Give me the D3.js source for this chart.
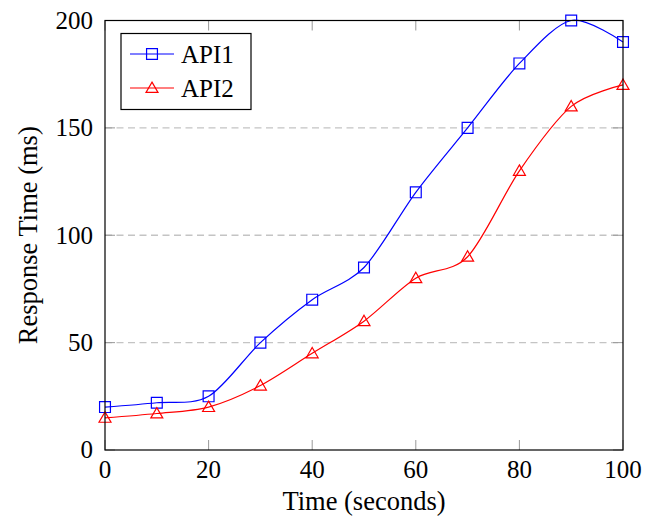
<!DOCTYPE html>
<html lang="en">
<head>
<meta charset="UTF-8">
<title>Response Time</title>
<script src="https://d3js.org/d3.v7.min.js"></script>
<style>
    body { margin: 0; background: #fff; }
    text { font-family: "Liberation Serif", "DejaVu Serif", serif; fill: #000; }
</style>
</head>
<body>
<div id="chart"></div>
<script>
    // data
    const times = [0, 10, 20, 30, 40, 50, 60, 70, 80, 90, 100];
    const api1 = [20, 22, 25, 50, 70, 85, 120, 150, 180, 200, 190];
    const api2 = [15, 17, 20, 30, 45, 60, 80, 90, 130, 160, 170];
    const xTicks = [0, 20, 40, 60, 80, 100];
    const yTicks = [0, 50, 100, 150, 200];
    const gridValues = [50, 100, 150];

    const width = 652, height = 518;
    const box = { left: 105, right: 623, top: 20.5, bottom: 450 };
    const fontSize = 25;
    const labelSize = 26.5;

    const svg = d3.select("#chart").append("svg")
        .attr("width", width)
        .attr("height", height);

    const x = d3.scaleLinear().domain([0, 100]).range([box.left, box.right]);
    const y = d3.scaleLinear().domain([0, 200]).range([box.bottom, box.top]);

    // dashed grid
    svg.append("g")
        .selectAll("line")
        .data(gridValues)
        .enter()
        .append("line")
        .attr("x1", box.left).attr("x2", box.right)
        .attr("y1", d => y(d)).attr("y2", d => y(d))
        .attr("stroke", "#c4c4c4")
        .attr("stroke-width", 1.3)
        .attr("stroke-dasharray", "7,4.5");

    // inner tick marks on all four sides
    const tickLen = 10;
    const ticks = svg.append("g").attr("stroke", "#999").attr("stroke-width", 1);
    xTicks.forEach(t => {
        ticks.append("line").attr("x1", x(t)).attr("x2", x(t))
            .attr("y1", box.bottom).attr("y2", box.bottom - tickLen);
        ticks.append("line").attr("x1", x(t)).attr("x2", x(t))
            .attr("y1", box.top).attr("y2", box.top + tickLen);
    });
    yTicks.forEach(t => {
        ticks.append("line").attr("x1", box.left).attr("x2", box.left + tickLen)
            .attr("y1", y(t)).attr("y2", y(t));
        ticks.append("line").attr("x1", box.right).attr("x2", box.right - tickLen)
            .attr("y1", y(t)).attr("y2", y(t));
    });

    // tick labels
    svg.append("g")
        .selectAll("text")
        .data(xTicks)
        .enter()
        .append("text")
        .attr("x", d => x(d))
        .attr("y", box.bottom + 28)
        .attr("text-anchor", "middle")
        .attr("font-size", fontSize)
        .text(d => d);

    svg.append("g")
        .selectAll("text")
        .data(yTicks)
        .enter()
        .append("text")
        .attr("x", box.left - 12)
        .attr("y", d => y(d))
        .attr("dy", "0.33em")
        .attr("text-anchor", "end")
        .attr("font-size", fontSize)
        .text(d => d);

    // axis labels
    svg.append("text")
        .attr("x", (box.left + box.right) / 2)
        .attr("y", 510)
        .attr("text-anchor", "middle")
        .attr("font-size", labelSize)
        .text("Time (seconds)");

    svg.append("text")
        .attr("transform", `translate(37, ${(box.top + box.bottom) / 2}) rotate(-90)`)
        .attr("text-anchor", "middle")
        .attr("font-size", labelSize)
        .text("Response Time (ms)");

    // series
    const series = [
        { name: "API1", values: api1, color: "#0000ff", marker: "square" },
        { name: "API2", values: api2, color: "#ff0000", marker: "triangle" }
    ];

    const line = d3.line()
        .x(d => x(d[0]))
        .y(d => y(d[1]))
        .curve(d3.curveCardinal.tension(0.1));

    const markerPath = (type) => type === "square"
        ? d3.symbol().type(d3.symbolSquare).size(118)()
        : d3.symbol().type(d3.symbolTriangle).size(62)();

    series.forEach(s => {
        const pts = times.map((t, i) => [t, s.values[i]]);
        const g = svg.append("g");
        g.append("path")
            .attr("d", line(pts))
            .attr("fill", "none")
            .attr("stroke", s.color)
            .attr("stroke-width", 1.2);
        g.selectAll("path.m")
            .data(pts)
            .enter()
            .append("path")
            .attr("class", "m")
            .attr("d", markerPath(s.marker))
            .attr("transform", d => `translate(${x(d[0])},${y(d[1]) + (s.marker === "triangle" ? 1 : 0)})`)
            .attr("fill", "none")
            .attr("stroke", s.color)
            .attr("stroke-width", 1.2);
    });

    // frame
    svg.append("rect")
        .attr("x", box.left).attr("y", box.top)
        .attr("width", box.right - box.left)
        .attr("height", box.bottom - box.top)
        .attr("fill", "none")
        .attr("stroke", "#000")
        .attr("stroke-width", 1.2);

    // legend
    const legend = svg.append("g");
    legend.append("rect")
        .attr("x", 121).attr("y", 33.5)
        .attr("width", 130).attr("height", 76)
        .attr("fill", "#fff")
        .attr("stroke", "#000")
        .attr("stroke-width", 1.2);
    series.forEach((s, i) => {
        const ly = 54 + i * 34;
        legend.append("line")
            .attr("x1", 130).attr("x2", 174)
            .attr("y1", ly).attr("y2", ly)
            .attr("stroke", s.color)
            .attr("stroke-width", 1.2);
        legend.append("path")
            .attr("d", markerPath(s.marker))
            .attr("transform", `translate(152,${ly + (s.marker === "triangle" ? 1 : 0)})`)
            .attr("fill", "none")
            .attr("stroke", s.color)
            .attr("stroke-width", 1.2);
        legend.append("text")
            .attr("x", 181)
            .attr("y", ly + 8.5)
            .attr("font-size", fontSize)
            .text(s.name);
    });
</script>
</body>
</html>
